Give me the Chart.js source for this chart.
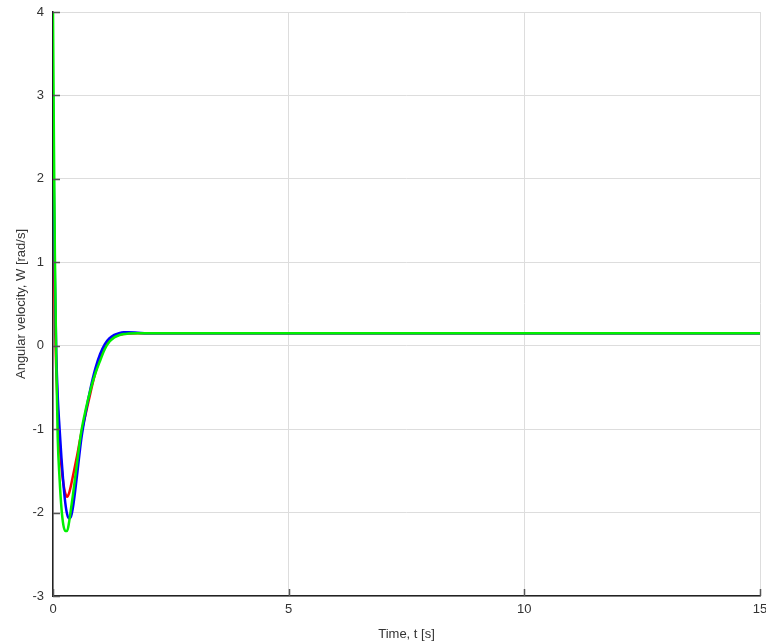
<!DOCTYPE html>
<html>
<head>
<meta charset="utf-8">
<script src="https://cdn.jsdelivr.net/npm/chart.js@4.4.1/dist/chart.umd.min.js"></script>
<style>
  html, body { margin: 0; padding: 0; background: #fff; }
  #wrap { width: 766px; height: 642px; }
</style>
</head>
<body>
<div id="wrap"><canvas id="w-chart"></canvas></div>
<script>
// 时间轴 (s)
var timeS = [0, 0.02, 0.04, 0.07, 0.1, 0.14, 0.18, 0.22, 0.26, 0.3, 0.34, 0.38, 0.42, 0.5, 0.6, 0.7, 0.8, 0.9, 1.0, 1.1, 1.2, 1.3, 1.4, 1.5, 1.6, 1.8, 2.0, 2.3, 2.6, 3.0, 15];

// 角速度 W (rad/s)
var wRed   = [2.0, 1.1, 0.35, -0.3, -0.75, -1.15, -1.45, -1.65, -1.77, -1.81, -1.77, -1.68, -1.57, -1.35, -1.05, -0.8, -0.55, -0.32, -0.15, 0.0, 0.07, 0.11, 0.13, 0.14, 0.145, 0.15, 0.15, 0.15, 0.15, 0.15, 0.15];
var wBlue  = [3.0, 1.8, 0.8, -0.1, -0.6, -1.0, -1.35, -1.65, -1.88, -2.02, -2.07, -2.05, -1.95, -1.6, -1.12, -0.78, -0.5, -0.27, -0.1, 0.02, 0.09, 0.13, 0.15, 0.16, 0.16, 0.155, 0.15, 0.15, 0.15, 0.15, 0.15];
var wGreen = [4.0, 2.4, 1.1, -0.2, -1.1, -1.6, -1.95, -2.15, -2.22, -2.22, -2.12, -1.96, -1.8, -1.45, -1.03, -0.75, -0.52, -0.33, -0.18, -0.04, 0.05, 0.1, 0.125, 0.14, 0.145, 0.15, 0.15, 0.15, 0.15, 0.15, 0.15];

var xTicks = [0, 5, 10, 15];
var yTicks = [-3, -2, -1, 0, 1, 2, 3, 4];

function pts(vals) {
  return vals.map(function (v, i) { return { x: timeS[i], y: v }; });
}

// 轴内侧刻度
var innerTicks = {
  id: "innerTicks",
  afterDraw: function (chart) {
    var ctx = chart.ctx, a = chart.chartArea;
    var xs = chart.scales.x, ys = chart.scales.y;
    ctx.save();
    ctx.strokeStyle = "#555";
    ctx.lineWidth = 1.5;
    ctx.beginPath();
    yTicks.forEach(function (v) {
      var p = Math.round(ys.getPixelForValue(v)) + 0.5;
      ctx.moveTo(a.left, p); ctx.lineTo(a.left + 7, p);
    });
    xTicks.forEach(function (v) {
      var p = Math.round(xs.getPixelForValue(v)) + 0.5;
      ctx.moveTo(p, a.bottom); ctx.lineTo(p, a.bottom - 7);
    });
    ctx.stroke();
    ctx.restore();
  }
};

var font = { family: "'Liberation Sans', Arial, sans-serif", size: 13 };

new Chart(document.getElementById("w-chart").getContext("2d"), {
  type: "line",
  data: {
    datasets: [
      { data: pts(wGreen), borderColor: "#00f000", borderWidth: 2.5, pointRadius: 0, cubicInterpolationMode: "monotone", fill: false },
      { data: pts(wBlue), borderColor: "#0000ff", borderWidth: 2.5, pointRadius: 0, cubicInterpolationMode: "monotone", fill: false },
      { data: pts(wRed), borderColor: "#ff0000", borderWidth: 2.5, pointRadius: 0, cubicInterpolationMode: "monotone", fill: false },
    ],
  },
  options: {
    responsive: true,
    maintainAspectRatio: false,
    animation: false,
    layout: { padding: { top: 12, right: 6, left: 14, bottom: 0 } },
    plugins: {
      legend: { display: false },
      tooltip: { enabled: false },
    },
    scales: {
      x: {
        type: "linear",
        min: 0, max: 15,
        afterBuildTicks: function (s) { s.ticks = xTicks.map(function (v) { return { value: v }; }); },
        grid: { color: "#dddddd", lineWidth: 1, drawTicks: false },
        border: { color: "#222", width: 1.5 },
        ticks: { color: "#333", font: font, padding: 6, maxRotation: 0 },
        title: { display: true, text: "Time, t [s]", color: "#333", font: font, padding: { top: 4, bottom: 0 } },
        afterFit: function (s) { s.height = 46; s.paddingLeft = 0; s.paddingRight = 0; },
      },
      y: {
        min: -3, max: 4,
        afterBuildTicks: function (s) { s.ticks = yTicks.map(function (v) { return { value: v }; }); },
        grid: { color: "#dddddd", lineWidth: 1, drawTicks: false },
        border: { color: "#222", width: 1.5 },
        ticks: { color: "#333", font: font, padding: 9 },
        title: { display: true, text: "Angular velocity, W [rad/s]", color: "#333", font: font, padding: { top: 0, bottom: 4 } },
        afterFit: function (s) { s.width = 39; s.paddingTop = 0; s.paddingBottom = 0; },
      },
    },
  },
  plugins: [innerTicks],
});
</script>
</body>
</html>
